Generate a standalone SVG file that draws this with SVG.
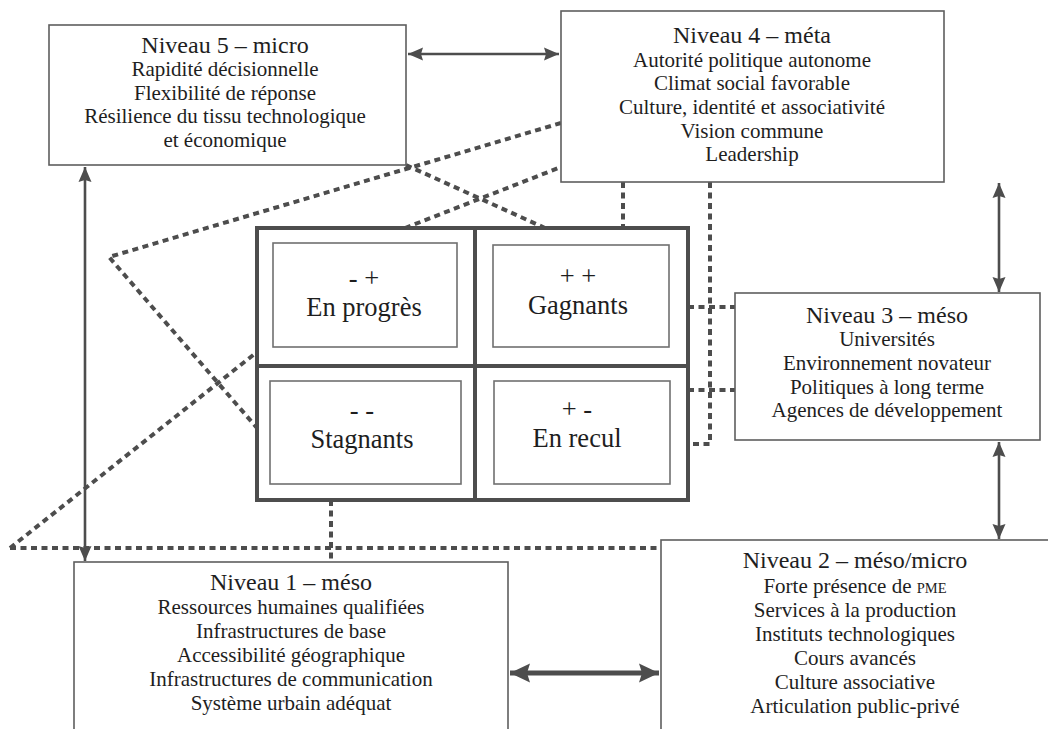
<svg xmlns="http://www.w3.org/2000/svg" width="1048" height="729" viewBox="0 0 1048 729">
<style>
.box{fill:#fff;stroke:#5e5e5e;stroke-width:1.6}
.inner{fill:#fff;stroke:#707070;stroke-width:1.6}
.grid{fill:none;stroke:#4d4d4d;stroke-width:4}
.dot{fill:none;stroke:#4d4d4d;stroke-width:4;stroke-dasharray:6 4.5}
.arr{fill:none;stroke:#4d4d4d;stroke-width:2.6}
.arrb{fill:none;stroke:#4d4d4d;stroke-width:5}
.txt text{fill:#1e1e1e;text-anchor:middle}
.t{font-size:24px}
.c{font-size:26.5px}
.i{font-size:21px}
.sc{font-size:14.5px}
</style>
<defs>
<marker id="ah" markerUnits="userSpaceOnUse" markerWidth="16" markerHeight="14" refX="15" refY="6.5" orient="auto-start-reverse" viewBox="0 0 16 13">
<path d="M0,0 L15,6.5 L0,13 L2,6.5 z" fill="#4d4d4d"/>
</marker>
<marker id="ahb" markerUnits="userSpaceOnUse" markerWidth="22" markerHeight="20" refX="20" refY="9.5" orient="auto-start-reverse" viewBox="0 0 22 19">
<path d="M0,0 L20,9.5 L0,19 L3,9.5 z" fill="#4d4d4d"/>
</marker>
</defs>
<rect width="1048" height="729" fill="#fff"/>
<g id="connectors">
<line class="dot" x1="10" y1="548" x2="661" y2="548"/>
<line class="dot" x1="10" y1="548" x2="257" y2="352"/>
<polyline class="dot" points="561,123 109,257 257,428"/>
<line class="dot" x1="405" y1="228" x2="561" y2="167"/>
<line class="dot" x1="406" y1="165" x2="545" y2="228"/>
<line class="dot" x1="623" y1="182" x2="623" y2="228"/>
<polyline class="dot" points="710,182 710,444 688,444"/>
<line class="dot" x1="688" y1="307" x2="735" y2="307"/>
<line class="dot" x1="688" y1="390" x2="735" y2="390"/>
<line class="dot" x1="331" y1="500" x2="331" y2="562"/>
<line class="arr" x1="408" y1="54" x2="559" y2="54" marker-start="url(#ah)" marker-end="url(#ah)"/>
<line class="arr" x1="85" y1="167" x2="85" y2="561" marker-start="url(#ah)" marker-end="url(#ah)"/>
<line class="arr" x1="999" y1="183" x2="999" y2="292" marker-start="url(#ah)" marker-end="url(#ah)"/>
<line class="arr" x1="999" y1="442" x2="999" y2="539" marker-start="url(#ah)" marker-end="url(#ah)"/>
<line class="arrb" x1="510" y1="673" x2="659" y2="673" marker-start="url(#ahb)" marker-end="url(#ahb)"/>
</g>
<g id="grid">
<rect x="257" y="228" width="431" height="272" fill="#fff" stroke="none"/>
<rect class="inner" x="273" y="243" width="184" height="104"/>
<rect class="inner" x="493" y="245" width="176" height="102"/>
<rect class="inner" x="270" y="381" width="191" height="103"/>
<rect class="inner" x="494" y="381" width="176" height="103"/>
<rect class="grid" x="257" y="228" width="431" height="272"/>
<line class="grid" x1="475" y1="228" x2="475" y2="500"/>
<line class="grid" x1="257" y1="366" x2="688" y2="366"/>
</g>
<g class="txt" font-family="'Liberation Serif', 'Times New Roman', serif">
<g id="cell-en-progres">
<text class="c" x="364" y="287">- +</text>
<text class="c" x="364" y="316">En progrès</text>
</g>
<g id="cell-gagnants">
<text class="c" x="578" y="285">+ +</text>
<text class="c" x="578" y="314">Gagnants</text>
</g>
<g id="cell-stagnants">
<text class="c" x="362" y="419">- -</text>
<text class="c" x="362" y="448">Stagnants</text>
</g>
<g id="cell-en-recul">
<text class="c" x="577" y="418">+ -</text>
<text class="c" x="577" y="447">En recul</text>
</g>
</g>
<g id="niveau5" class="txt" font-family="'Liberation Serif', 'Times New Roman', serif">
<rect class="box" x="49" y="25" width="357" height="140"/>
<text class="t" x="225" y="53">Niveau 5 – micro</text>
<text class="i" x="225" y="76">Rapidité décisionnelle</text>
<text class="i" x="225" y="100">Flexibilité de réponse</text>
<text class="i" x="225" y="123">Résilience du tissu technologique</text>
<text class="i" x="225" y="147">et économique</text>
</g>
<g id="niveau4" class="txt" font-family="'Liberation Serif', 'Times New Roman', serif">
<rect class="box" x="561" y="11" width="383" height="171"/>
<text class="t" x="752" y="43">Niveau 4 – méta</text>
<text class="i" x="752" y="67">Autorité politique autonome</text>
<text class="i" x="752" y="90">Climat social favorable</text>
<text class="i" x="752" y="114">Culture, identité et associativité</text>
<text class="i" x="752" y="138">Vision commune</text>
<text class="i" x="752" y="161">Leadership</text>
</g>
<g id="niveau3" class="txt" font-family="'Liberation Serif', 'Times New Roman', serif">
<rect class="box" x="735" y="293" width="305" height="147"/>
<text class="t" x="887" y="323">Niveau 3 – méso</text>
<text class="i" x="887" y="346">Universités</text>
<text class="i" x="887" y="370">Environnement novateur</text>
<text class="i" x="887" y="394">Politiques à long terme</text>
<text class="i" x="887" y="417">Agences de développement</text>
</g>
<g id="niveau2" class="txt" font-family="'Liberation Serif', 'Times New Roman', serif">
<rect class="box" x="661" y="540" width="400" height="200"/>
<text class="t" x="855" y="568">Niveau 2 – méso/micro</text>
<text class="i" x="855" y="593">Forte présence de <tspan class="sc">PME</tspan></text>
<text class="i" x="855" y="617">Services à la production</text>
<text class="i" x="855" y="641">Instituts technologiques</text>
<text class="i" x="855" y="665">Cours avancés</text>
<text class="i" x="855" y="689">Culture associative</text>
<text class="i" x="855" y="713">Articulation public-privé</text>
</g>
<g id="niveau1" class="txt" font-family="'Liberation Serif', 'Times New Roman', serif">
<rect class="box" x="74" y="562" width="434" height="180"/>
<text class="t" x="291" y="590">Niveau 1 – méso</text>
<text class="i" x="291" y="614">Ressources humaines qualifiées</text>
<text class="i" x="291" y="638">Infrastructures de base</text>
<text class="i" x="291" y="662">Accessibilité géographique</text>
<text class="i" x="291" y="686">Infrastructures de communication</text>
<text class="i" x="291" y="710">Système urbain adéquat</text>
</g>
</svg>
